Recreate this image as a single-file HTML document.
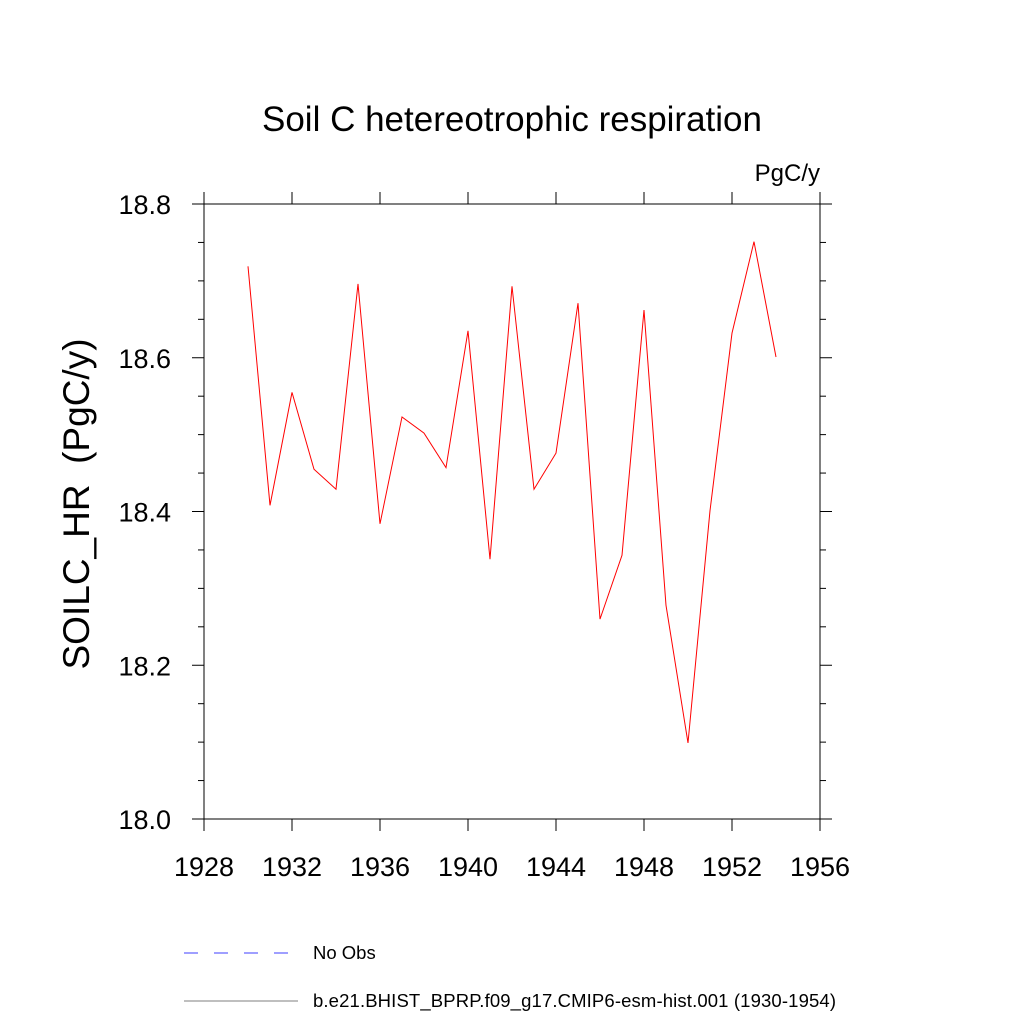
<!DOCTYPE html>
<html><head><meta charset="utf-8"><style>
body{margin:0;background:#fff}
svg text{font-family:"Liberation Sans",sans-serif}
</style></head><body>
<svg id="c" width="1024" height="1024" xmlns="http://www.w3.org/2000/svg">
<text x="512" y="131" font-size="35" text-anchor="middle">Soil C hetereotrophic respiration</text>
<text x="820" y="181" font-size="24" text-anchor="end">PgC/y</text>
<text transform="translate(89,504) rotate(-90)" font-size="37" text-anchor="middle">SOILC_HR&#160;&#160;(PgC/y)</text>
<g id="axes"></g>
<g id="series"></g>
<g>
<line x1="184" y1="953" x2="298" y2="953" stroke="#00f" stroke-width="0.8" stroke-dasharray="14,16"/>
<text x="313" y="959" font-size="18.5">No Obs</text>
<line x1="184" y1="1001" x2="298" y2="1001" stroke="#000" stroke-width="0.6"/>
<text x="313" y="1007" font-size="18.5" textLength="523">b.e21.BHIST_BPRP.f09_g17.CMIP6-esm-hist.001 (1930-1954)</text>
</g>
</svg>
<script>
const years=[1930,1931,1932,1933,1934,1935,1936,1937,1938,1939,1940,1941,1942,1943,1944,1945,1946,1947,1948,1949,1950,1951,1952,1953,1954];
const values=[18.719,18.408,18.555,18.455,18.429,18.696,18.384,18.523,18.502,18.457,18.635,18.338,18.693,18.429,18.476,18.671,18.260,18.343,18.662,18.278,18.099,18.401,18.632,18.751,18.601];
const xTicks=[1928,1932,1936,1940,1944,1948,1952,1956];
const yTicks=[18.0,18.2,18.4,18.6,18.8];
const yMinor=[18.05,18.1,18.15,18.25,18.3,18.35,18.45,18.5,18.55,18.65,18.7,18.75];
const NS='http://www.w3.org/2000/svg';
const X0=204,X1=820,Y0=819,Y1=204;
const sx=v=>X0+(v-1928)/(1956-1928)*(X1-X0);
const sy=v=>Y0-(v-18.0)/(0.8)*(Y0-Y1);
const ax=document.getElementById('axes');
function mk(t,a,p){const e=document.createElementNS(NS,t);for(const k in a)e.setAttribute(k,a[k]);(p||ax).appendChild(e);return e;}
const fr=mk('rect',{x:X0,y:Y1,width:X1-X0,height:Y0-Y1,fill:'none',stroke:'#000','stroke-width':1});


xTicks.forEach(v=>{const x=sx(v);
 const t1=mk('line',{x1:x,y1:Y0,x2:x,y2:Y0+12,stroke:'#000'});
 
 
 const t2=mk('line',{x1:x,y1:Y1,x2:x,y2:Y1-12,stroke:'#000'});
 
 
 const l=mk('text',{x:x,y:Y0+57,'font-size':27,'text-anchor':'middle'});l.textContent=v;
 
 
});
yTicks.forEach(v=>{const y=sy(v);
 const t1=mk('line',{x1:X0,y1:y,x2:X0-12,y2:y,stroke:'#000'});
 
 
 const t2=mk('line',{x1:X1,y1:y,x2:X1+12,y2:y,stroke:'#000'});
 
 
 const l=mk('text',{x:X0-33,y:y+10,'font-size':27,'text-anchor':'end'});l.textContent=v.toFixed(1);
 
 
});
yMinor.forEach(v=>{const y=sy(v);
 const t1=mk('line',{x1:X0,y1:y,x2:X0-6,y2:y,stroke:'#000'});
 
 
 const t2=mk('line',{x1:X1,y1:y,x2:X1+6,y2:y,stroke:'#000'});
 
 
});
const pl=mk('polyline',{points:years.map((y,i)=>sx(y)+','+sy(values[i])).join(' '),fill:'none',stroke:'#f00','stroke-width':1},document.getElementById('series'));


</script>
</body></html>
